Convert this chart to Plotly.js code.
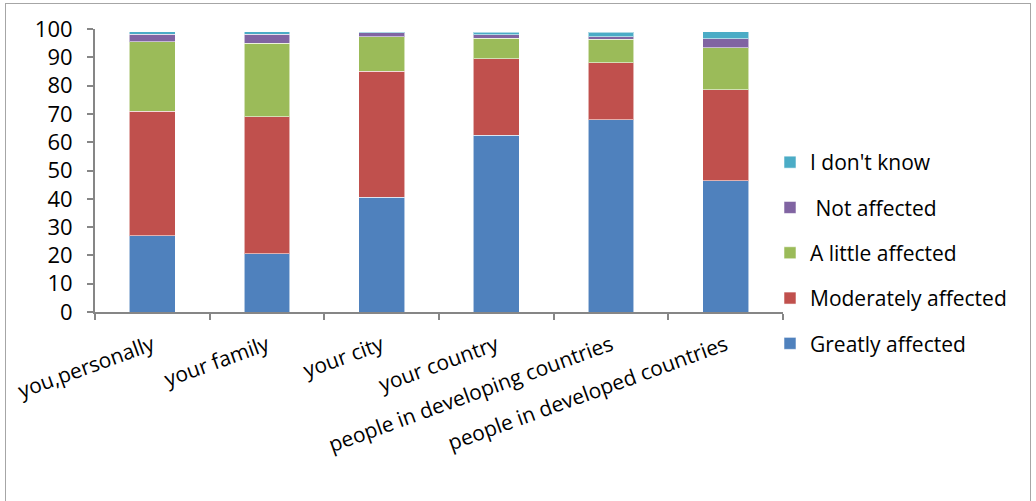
<!DOCTYPE html>
<html>
<head>
<meta charset="utf-8">
<script src="https://cdn.plot.ly/plotly-3.0.1.min.js"></script>
<style>
  html, body { margin: 0; padding: 0; background: #fff; }
  #frame { position: absolute; left: 5px; top: 3px; width: 1026px; height: 500px; border: 1px solid #a6a6a6; box-sizing: border-box; }
  #chart { position: absolute; left: 0; top: 0; width: 1036px; height: 501px; }
</style>
</head>
<body>
<div id="frame"></div>
<div id="chart"></div>
<script>
// Share of respondents by how affected each group is (percent)
const categories = ["you,personally", "your family", "your city", "your country",
                    "people in developing countries", "people in developed countries"];
const greatly    = [27.0, 20.5, 40.5, 62.5, 68.0, 46.3];
const moderately = [44.0, 48.5, 44.5, 27.0, 20.0, 32.3];
const aLittle    = [24.5, 26.0, 12.3, 7.3, 8.4, 14.8];
const notAff     = [2.7, 3.2, 1.4, 1.2, 0.8, 3.1];
const dontKnow   = [0.9, 0.8, 0.4, 0.9, 1.7, 2.5];
const yTicks     = [0, 10, 20, 30, 40, 50, 60, 70, 80, 90, 100];

const seriesNames  = ["Greatly affected", "Moderately affected", "A little affected", " Not affected", "I don't know"];
const seriesValues = [greatly, moderately, aLittle, notAff, dontKnow];
const seriesColors = ["#4F81BD", "#C0504D", "#9BBB59", "#8064A2", "#4BACC6"];

// stacked bottom-to-top; legend lists the top segment first
const traces = seriesNames.map((name, i) => ({
  type: "bar",
  name: name,
  x: categories,
  y: seriesValues[i],
  legendgroup: "g" + i,
  legendrank: seriesNames.length - i,
  marker: { color: seriesColors[i], line: { color: "rgba(255,255,255,0.55)", width: 1 } },
  hoverinfo: "x+y+name"
}));

const axisColor = "#868686";
const W = 1036, H = 501;
const M = { l: 95, r: 253, t: 29, b: 189 };
const plotW = W - M.l - M.r;
const plotH = H - M.t - M.b;

const layout = {
  width: W,
  height: H,
  margin: M,
  paper_bgcolor: "rgba(0,0,0,0)",
  plot_bgcolor: "rgba(0,0,0,0)",
  barmode: "stack",
  bargap: 0.6,
  showlegend: true,
  font: { family: "Open Sans, sans-serif", color: "#000" },
  xaxis: {
    type: "category",
    showline: true,
    linecolor: axisColor,
    linewidth: 2,
    ticks: "outside",
    tickson: "boundaries",
    ticklen: 6,
    tickwidth: 2,
    tickcolor: axisColor,
    tickangle: -20,
    ticklabelstandoff: 11,
    tickfont: { family: "Open Sans, sans-serif", size: 21, color: "#000" },
    showgrid: false,
    zeroline: false
  },
  yaxis: {
    range: [0, 100],
    tickvals: yTicks,
    ticktext: yTicks.map(String),
    showline: true,
    linecolor: axisColor,
    linewidth: 2,
    ticks: "outside",
    ticklen: 6,
    tickwidth: 2,
    tickcolor: axisColor,
    ticklabelstandoff: 10,
    tickfont: { family: "Open Sans, sans-serif", size: 22, color: "#000" },
    showgrid: false,
    zeroline: false
  },
  legend: {
    x: (770 - M.l) / plotW,
    y: 1 - (142 - M.t) / plotH,
    xanchor: "left",
    yanchor: "top",
    traceorder: "grouped",
    tracegroupgap: 15,
    font: { family: "Open Sans, sans-serif", size: 21, color: "#000" },
    itemwidth: 30,
    bgcolor: "rgba(0,0,0,0)"
  }
};

Plotly.newPlot("chart", traces, layout, { displayModeBar: false, staticPlot: true });
</script>
</body>
</html>
